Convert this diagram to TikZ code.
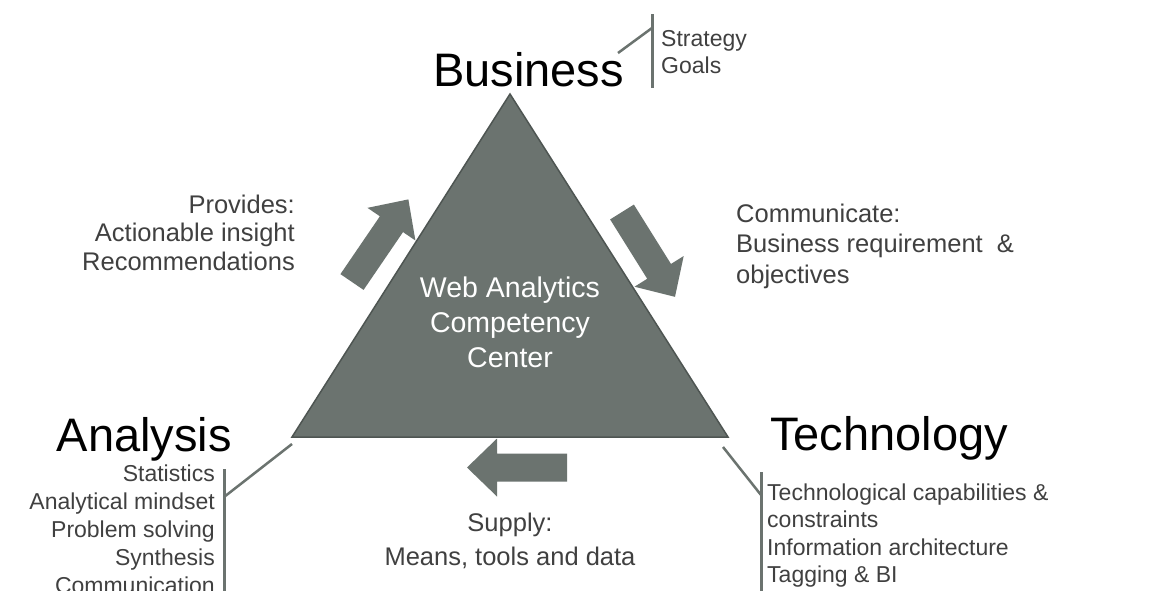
\documentclass[tikz,border=0pt]{standalone}
\usepackage{fontspec}
\setmainfont{Liberation Sans}
\usetikzlibrary{positioning}

\definecolor{wagray}{RGB}{107,115,111}
\definecolor{wadark}{RGB}{78,85,82}
\definecolor{listgray}{RGB}{64,64,64}

\tikzset{
  flow/.pic={\fill[wagray] (0,-14) -- (70,-14) -- (70,-29) -- (100,0) -- (70,29) -- (70,14) -- (0,14) -- cycle;}
}

\begin{document}
\begin{tikzpicture}[x=1pt,y=-1pt,
    title/.style={font=\fontsize{47}{52}\selectfont, inner sep=0pt},
    note/.style={font=\fontsize{25.5}{28.5}\selectfont, text=listgray, inner sep=0pt},
    items/.style={font=\fontsize{23}{27.5}\selectfont, text=listgray, inner sep=0pt},
    callout/.style={draw=wagray, line width=3pt},
  ]
		\clip (0,0) rectangle (1169,590);
		\fill[white] (0,0) rectangle (1169,590);

		% competency triangle
		\coordinate (apex) at (510,94);
		\coordinate (lcorner) at (292,437);
		\coordinate (rcorner) at (728,437);
		\filldraw[fill=wagray, draw=wadark, line width=1.5pt] (apex) -- (rcorner) -- (lcorner) -- cycle;
		\node[align=center, text=white, font=\fontsize{28.5}{35}\selectfont, inner sep=0pt, anchor=north] (center) at (510,276.5) {Web Analytics\\Competency\\Center};

		% flows around the triangle
		\pic[rotate=55.7] at (352,282) {flow};
		\pic[rotate=-58] at (622,212) {flow};
		\pic[rotate=180] at (567,467.5) {flow};

		% corners
		\node[title, anchor=base west] (business) at (433,86) {Business};
		\node[title, anchor=base east] (analysis) at (232,451) {Analysis};
		\node[title, anchor=base west] (technology) at (770,450) {Technology};

		\node[note, align=right, anchor=north east] (provides) at (295,194.5) {Provides:\\Actionable insight\\Recommendations};
		\node[note, align=left, anchor=north west, font=\fontsize{25.5}{30.5}\selectfont] (communicate) at (736,203.5) {Communicate:\\Business requirement \ \&\\objectives};
		\node[note, align=center, anchor=north, font=\fontsize{25.5}{34}\selectfont] (supply) at (510,513) {Supply:\\Means, tools and data};

		\node[items, align=left, anchor=north west, font=\fontsize{23}{27}\selectfont] (bizitems) at (661,30.5) {Strategy\\Goals};
		\node[items, align=right, anchor=north east, font=\fontsize{23}{28}\selectfont] (anaitems) at (215,464.5) {Statistics\\Analytical mindset\\Problem solving\\Synthesis\\Communication};
		\node[items, align=left, anchor=north west] (techitems) at (767,483.5) {Technological capabilities \&\\constraints\\Information architecture\\Tagging \& BI};

		% callout brackets
		\coordinate (biztop) at (652,14);
		\coordinate (bizbot) at (652,88);
		\coordinate (bizknee) at (652,28);
		\coordinate (bizfoot) at (618,53);
		\draw[callout] (biztop) -- (bizbot);
		\draw[callout, line width=2.5pt] (bizfoot) -- (bizknee);

		\coordinate (anatop) at (224,469);
		\coordinate (anabot) at (224,592);
		\coordinate (anaknee) at (224,497);
		\coordinate (anafoot) at (292,444);
		\draw[callout] (anatop) -- (anabot);
		\draw[callout, line width=2.5pt] (anafoot) -- (anaknee);

		\coordinate (techtop) at (761,472);
		\coordinate (techbot) at (761,592);
		\coordinate (techknee) at (761,495);
		\coordinate (techfoot) at (723,447);
		\draw[callout] (techtop) -- (techbot);
		\draw[callout, line width=2.5pt] (techfoot) -- (techknee);
	\end{tikzpicture}
\end{document}
